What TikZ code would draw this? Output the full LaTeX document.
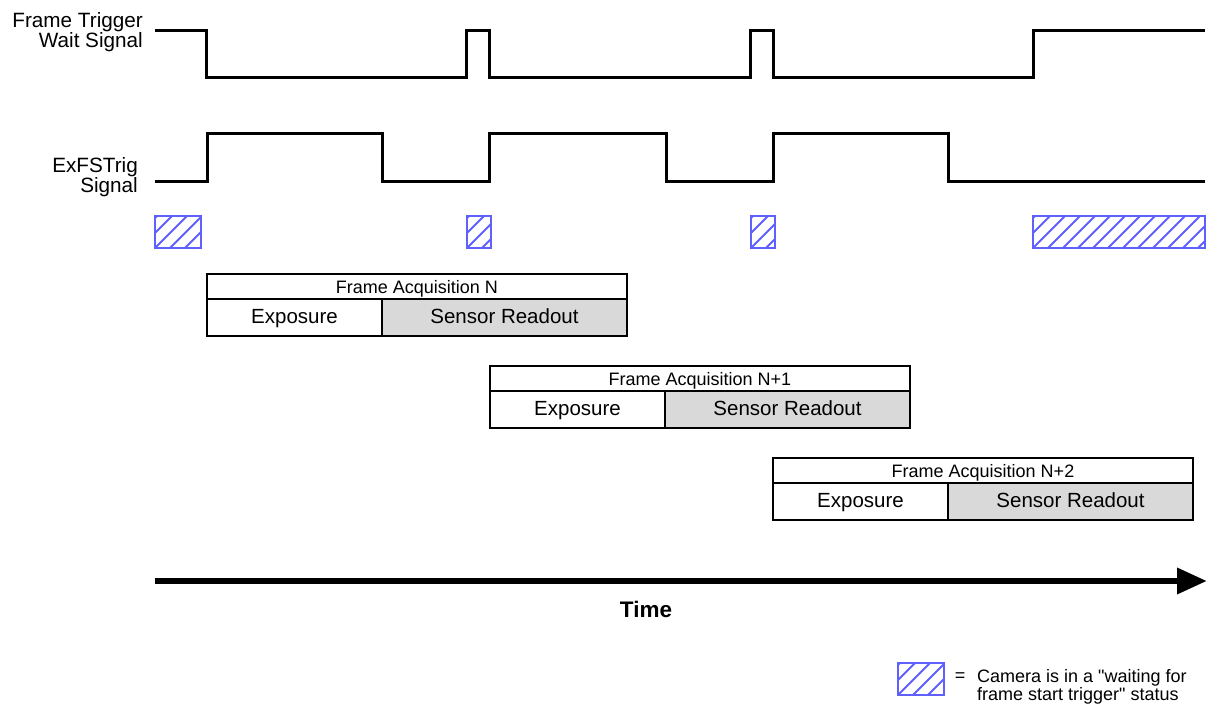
\documentclass[tikz,border=0pt]{standalone}
\usepackage{fontspec}
\setmainfont{Liberation Sans}[Ligatures=TeXOff]
\usepackage{tikz}
\usetikzlibrary{arrows.meta,positioning}
\usepackage{xcolor}
\definecolor{waitblue}{RGB}{96,96,255}
\definecolor{readgray}{RGB}{217,217,217}

\begin{document}
\begin{tikzpicture}[x=1pt, y=-1pt,
        signal/.style={line width=3pt},
        lbl/.style={inner sep=0pt, align=right, font=\fontsize{20.7}{20.5}\selectfont},
        waitbox/.style={draw=waitblue, line width=2pt, minimum height=32pt, inner sep=0pt, outer sep=0pt,
            path picture={\foreach \k in {-30,-15,...,180} \draw[waitblue, line width=2pt] ([xshift=\k pt]path picture bounding box.south west) -- +(45:50pt);}},
        title/.style={draw, line width=1.5pt, minimum width=420pt, minimum height=25pt, inner sep=0pt, outer sep=0pt,
            text height=17pt, text depth=3.5pt, font=\fontsize{18}{18}\selectfont},
        expo/.style={draw, line width=1.5pt, minimum width=175pt, minimum height=37pt, inner sep=0pt, outer sep=0pt,
            text height=15.5pt, text depth=4pt, font=\fontsize{20.5}{20.5}\selectfont},
        readout/.style={expo, fill=readgray, minimum width=245pt},
        arrow/.style={-{Triangle[length=30pt, width=25pt]}, line width=6.5pt}
    ]
        \useasboundingbox (0,0) rectangle (1208,704);

        % Signal names
        \node[lbl, anchor=east] (waitlbl) at (143,32) {Frame Trigger\\Wait Signal};
        \node[lbl, anchor=east] (triglbl) at (138,177) {ExFSTrig\\Signal};

        % Signals
        \draw[signal] (155,30) -- (206,30) -- (206,77) -- (466,77) -- (466,30) -- (489,30) -- (489,77)
            -- (750,77) -- (750,30) -- (773,30) -- (773,77) -- (1033,77) -- (1033,30) -- (1205,30);
        \draw[signal] (155,181) -- (207,181) -- (207,133) -- (382,133) -- (382,181) -- (489,181) -- (489,133)
            -- (666,133) -- (666,181) -- (773,181) -- (773,133) -- (948,133) -- (948,181) -- (1205,181);

        % Waiting for trigger
        \node[waitbox, minimum width=46pt] (w1) at (178,232) {};
        \node[waitbox, minimum width=24pt] (w2) at (479,232) {};
        \node[waitbox, minimum width=24pt] (w3) at (763,232) {};
        \node[waitbox, minimum width=172pt] (w4) at (1119,232) {};

        % Frame Acquisition N
        \node[title, anchor=north west] (fa1) at (207,274) {Frame Acquisition N};
        \node[expo, below=0pt of fa1.south west, anchor=north west] (ex1) {Exposure};
        \node[readout, right=0pt of ex1] (ro1) {Sensor Readout};

        % Frame Acquisition N+1
        \node[title, anchor=north west] (fa2) at (490,366) {Frame Acquisition N+1};
        \node[expo, below=0pt of fa2.south west, anchor=north west] (ex2) {Exposure};
        \node[readout, right=0pt of ex2] (ro2) {Sensor Readout};

        % Frame Acquisition N+2
        \node[title, anchor=north west] (fa3) at (773,458) {Frame Acquisition N+2};
        \node[expo, below=0pt of fa3.south west, anchor=north west] (ex3) {Exposure};
        \node[readout, right=0pt of ex3] (ro3) {Sensor Readout};

        % Time axis
        \coordinate (t0) at (155,581);
        \coordinate (t1) at (1207,581);
        \draw[arrow] (t0) -- (t1);
        \node[inner sep=0pt, anchor=base, font=\bfseries\fontsize{22.5}{22.5}\selectfont] (time) at (646,617) {Time};

        % Legend
        \node[waitbox, minimum width=46pt] (key) at (921,679) {};
        \node[inner sep=0pt, font=\fontsize{18}{18}\selectfont] (eq) at (960,677) {=};
        \node[inner sep=0pt, align=left, anchor=west, font=\fontsize{18}{18}\selectfont] (keytxt) at (977,687)
            {Camera is in a "waiting for\\frame start trigger" status};
    \end{tikzpicture}
\end{document}
